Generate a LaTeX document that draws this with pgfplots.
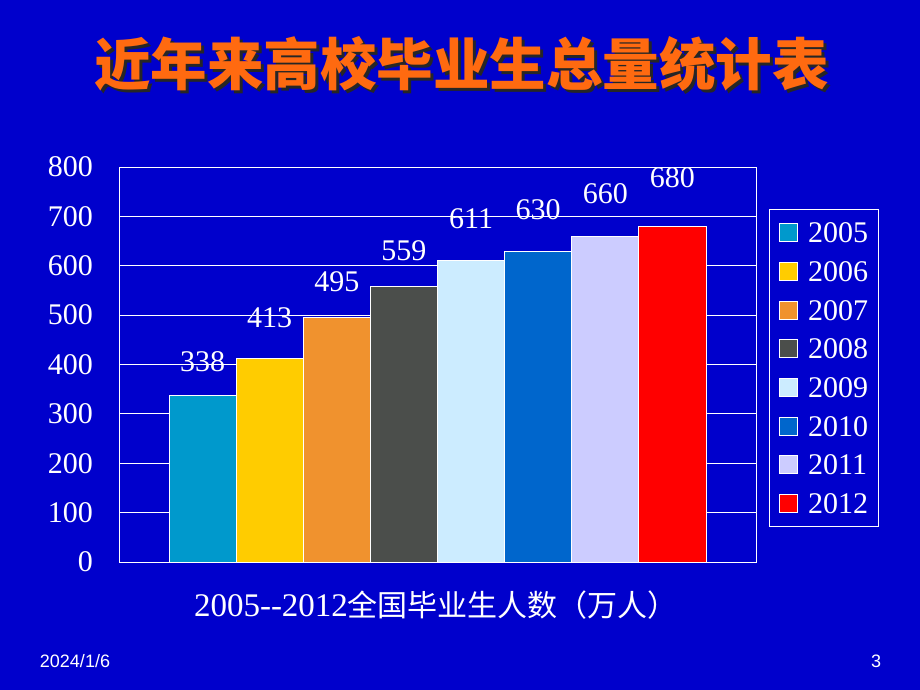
\documentclass[border=0pt]{standalone}
\usepackage{fontspec}
\setmainfont{Liberation Serif}
\setsansfont{Liberation Sans}
\newfontfamily\cjk{Noto Sans CJK SC}
\usepackage{pgfplots}
\pgfplotsset{compat=1.18}
\definecolor{bg}{HTML}{0000CC}
\definecolor{titleorange}{HTML}{FF6A10}
\definecolor{c1}{HTML}{0099CC}
\definecolor{c2}{HTML}{FFCC00}
\definecolor{c3}{HTML}{F0922E}
\definecolor{c4}{HTML}{4B4E4B}
\definecolor{c5}{HTML}{CCECFF}
\definecolor{c6}{HTML}{0066CC}
\definecolor{c7}{HTML}{CCCCFF}
\definecolor{c8}{HTML}{FF0000}
\begin{document}
\begin{tikzpicture}[x=1pt,y=1pt]
\fill[bg] (0,0) rectangle (920,690);
% title with shadow
\node[text=black!85, font=\fontsize{56.5}{56.5}\cjk\bfseries, inner sep=0pt] at (464.5,623.5) {近年来高校毕业生总量统计表};
\node[text=titleorange, font=\fontsize{56.5}{56.5}\cjk\bfseries, inner sep=0pt] at (461.5,626.5) {近年来高校毕业生总量统计表};
\begin{axis}[
  at={(119pt,128pt)}, anchor=south west,
  width=637pt, height=395pt, scale only axis,
  xmin=-1.246, xmax=8.246, ymin=0, ymax=800,
  ytick={0,100,...,800}, xtick=\empty,
  ymajorgrids, grid style={white, line width=0.8pt},
  axis line style={white, line width=0.8pt},
  ybar, bar shift=0pt, bar width=1,
  major tick length=0pt,
  tick label style={font=\fontsize{30}{30}\selectfont, text=white},
  /pgf/number format/assume math mode=true,
  yticklabel style={inner xsep=0pt, xshift=-26pt},
  nodes near coords,
  every node near coord/.append style={text=white, font=\fontsize{30}{30}\selectfont, inner sep=0pt, anchor=south},
  legend image code/.code={\draw[#1] (0pt,-9pt) rectangle (18pt,9pt);},
  legend cell align=left,
  legend style={at={(rel axis cs:1.0204,0.8937)}, anchor=north west,
    fill=bg, draw=white, line width=0.8pt, text=white,
    font=\fontsize{30}{30}\selectfont,
    nodes={inner xsep=0pt, inner ysep=0pt, text height=20.3pt, text depth=0pt},
    column sep=10pt, row sep=18.4pt, inner xsep=10pt, inner ysep=13pt},
]
\addplot[fill=c1, draw=white, line width=0.8pt, every node near coord/.append style={yshift=23pt}] coordinates {(0,338)};
\addplot[fill=c2, draw=white, line width=0.8pt, every node near coord/.append style={yshift=30pt}] coordinates {(1,413)};
\addplot[fill=c3, draw=white, line width=0.8pt, every node near coord/.append style={yshift=25pt}] coordinates {(2,495)};
\addplot[fill=c4, draw=white, line width=0.8pt, every node near coord/.append style={yshift=25pt}] coordinates {(3,559)};
\addplot[fill=c5, draw=white, line width=0.8pt, every node near coord/.append style={yshift=31pt}] coordinates {(4,611)};
\addplot[fill=c6, draw=white, line width=0.8pt, every node near coord/.append style={yshift=31pt}] coordinates {(5,630)};
\addplot[fill=c7, draw=white, line width=0.8pt, every node near coord/.append style={yshift=32pt}] coordinates {(6,660)};
\addplot[fill=c8, draw=white, line width=0.8pt, every node near coord/.append style={yshift=38pt}] coordinates {(7,680)};
\legend{2005,2006,2007,2008,2009,2010,2011,2012}
\end{axis}
\node[text=white, font=\fontsize{33}{33}\selectfont, inner sep=0pt] at (436,85) {2005-{}-2012{\fontsize{30}{30}\cjk 全国毕业生人数（万人）}};
\node[text=white, font=\fontsize{18}{18}\sffamily, inner sep=0pt] at (75,29) {2024/1/6};
\node[text=white, font=\fontsize{18}{18}\sffamily, inner sep=0pt] at (876,29) {3};
\end{tikzpicture}
\end{document}
